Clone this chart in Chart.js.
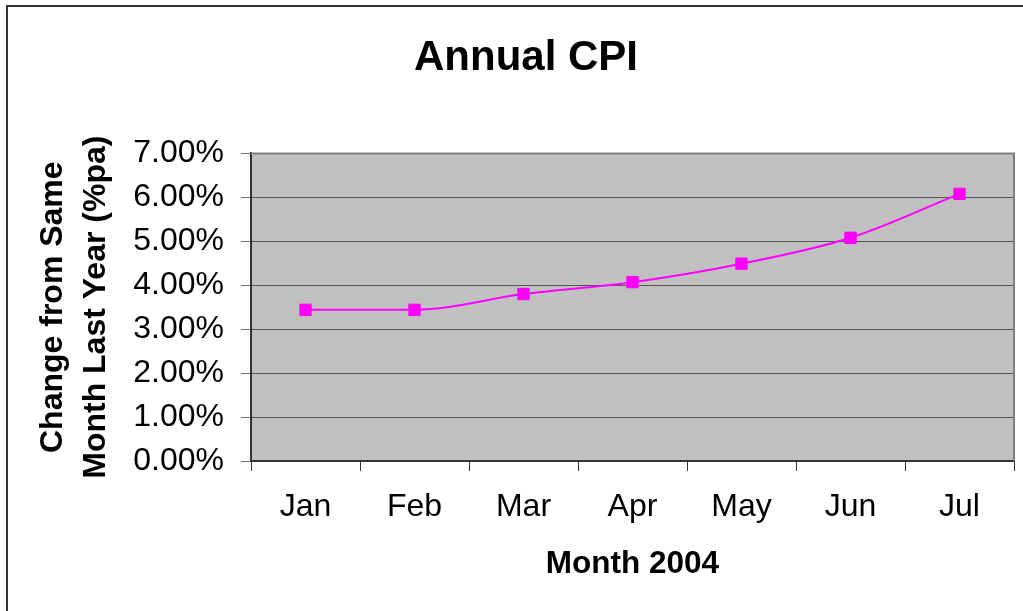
<!DOCTYPE html>
<html>
<head>
<meta charset="utf-8">
<script src="https://cdn.jsdelivr.net/npm/chart.js@4/dist/chart.umd.min.js"></script>
<style>
  body { margin: 0; background: #fff; }
  #wrap { position: relative; width: 1023px; height: 611px; }
  #frame { position: absolute; left: 6px; top: 5px; right: -10px; bottom: -10px;
           border-left: 2px solid #333; border-top: 2px solid #333; pointer-events: none; }
</style>
</head>
<body>
<div id="wrap">
  <canvas id="myChart" width="1023" height="611"></canvas>
  <div id="frame"></div>
</div>
<script>
var months = ["Jan", "Feb", "Mar", "Apr", "May", "Jun", "Jul"];
var cpi = [3.44, 3.44, 3.80, 4.07, 4.49, 5.08, 6.08];
var yTicks = [0, 1, 2, 3, 4, 5, 6, 7];

var plotBg = {
  id: 'plotBg',
  beforeDraw: function(chart) {
    var a = chart.chartArea, c = chart.ctx;
    c.save();
    c.fillStyle = '#c0c0c0';
    c.fillRect(a.left, a.top, a.right - a.left, a.bottom - a.top);
    c.restore();
  },
  afterDatasetsDraw: function(chart) {
    var a = chart.chartArea, c = chart.ctx;
    c.save();
    c.strokeStyle = '#808080';
    c.lineWidth = 2;
    c.beginPath();
    c.moveTo(a.left, a.top);
    c.lineTo(a.right, a.top);
    c.lineTo(a.right, a.bottom);
    c.stroke();
    c.restore();
  }
};

var ctx = document.getElementById("myChart").getContext('2d');
new Chart(ctx, {
  type: 'line',
  plugins: [plotBg],
  data: {
    labels: months,
    datasets: [{
      data: cpi,
      borderColor: "#ff00ff",
      backgroundColor: "#ff00ff",
      borderWidth: 2,
      cubicInterpolationMode: 'monotone',
      pointStyle: 'rect',
      pointRadius: 8,
      pointBorderWidth: 1,
      fill: false
    }]
  },
  options: {
    responsive: false,
    animation: false,
    devicePixelRatio: 1,
    layout: { padding: { left: 35, right: 6, top: 6, bottom: 0 } },
    plugins: {
      legend: { display: false },
      tooltip: { enabled: false },
      title: {
        display: true,
        text: 'Annual CPI',
        color: '#000',
        font: { family: 'Liberation Sans, Arial', size: 42, weight: 'bold', lineHeight: 1.2 },
        padding: { top: 27, bottom: 70 }
      }
    },
    scales: {
      x: {
        offset: true,
        grid: { offset: true, drawOnChartArea: false, drawTicks: true, tickLength: 10, tickColor: '#333', tickWidth: 1 },
        border: { color: '#333', width: 2 },
        ticks: { color: '#000', padding: 17, maxRotation: 0,
                 font: { family: 'Liberation Sans, Arial', size: 32 } },
        title: { display: true, text: 'Month 2004', color: '#000',
                 font: { family: 'Liberation Sans, Arial', size: 31.5, weight: 'bold', lineHeight: 1.4 },
                 padding: { top: 0, bottom: 25 } },
        afterFit: function(s) { s.height = 150; }
      },
      y: {
        min: 0,
        max: 7,
        afterBuildTicks: function(s) { s.ticks = yTicks.map(function(v) { return { value: v }; }); },
        grid: { color: '#555', lineWidth: 1, tickLength: 10, tickColor: '#777' },
        border: { color: '#333', width: 2 },
        ticks: { color: '#000', padding: 17,
                 font: { family: 'Liberation Sans, Arial', size: 32 },
                 callback: function(v) { return v.toFixed(2) + '%'; } },
        title: { display: true, text: ['Change from Same', 'Month Last Year (%pa)'], color: '#000',
                 font: { family: 'Liberation Sans, Arial', size: 32, weight: 'bold', lineHeight: 1.35 },
                 padding: { top: -3.6, bottom: 0 } },
        afterFit: function(s) { s.width = 216; }
      }
    }
  }
});
</script>
</body>
</html>
